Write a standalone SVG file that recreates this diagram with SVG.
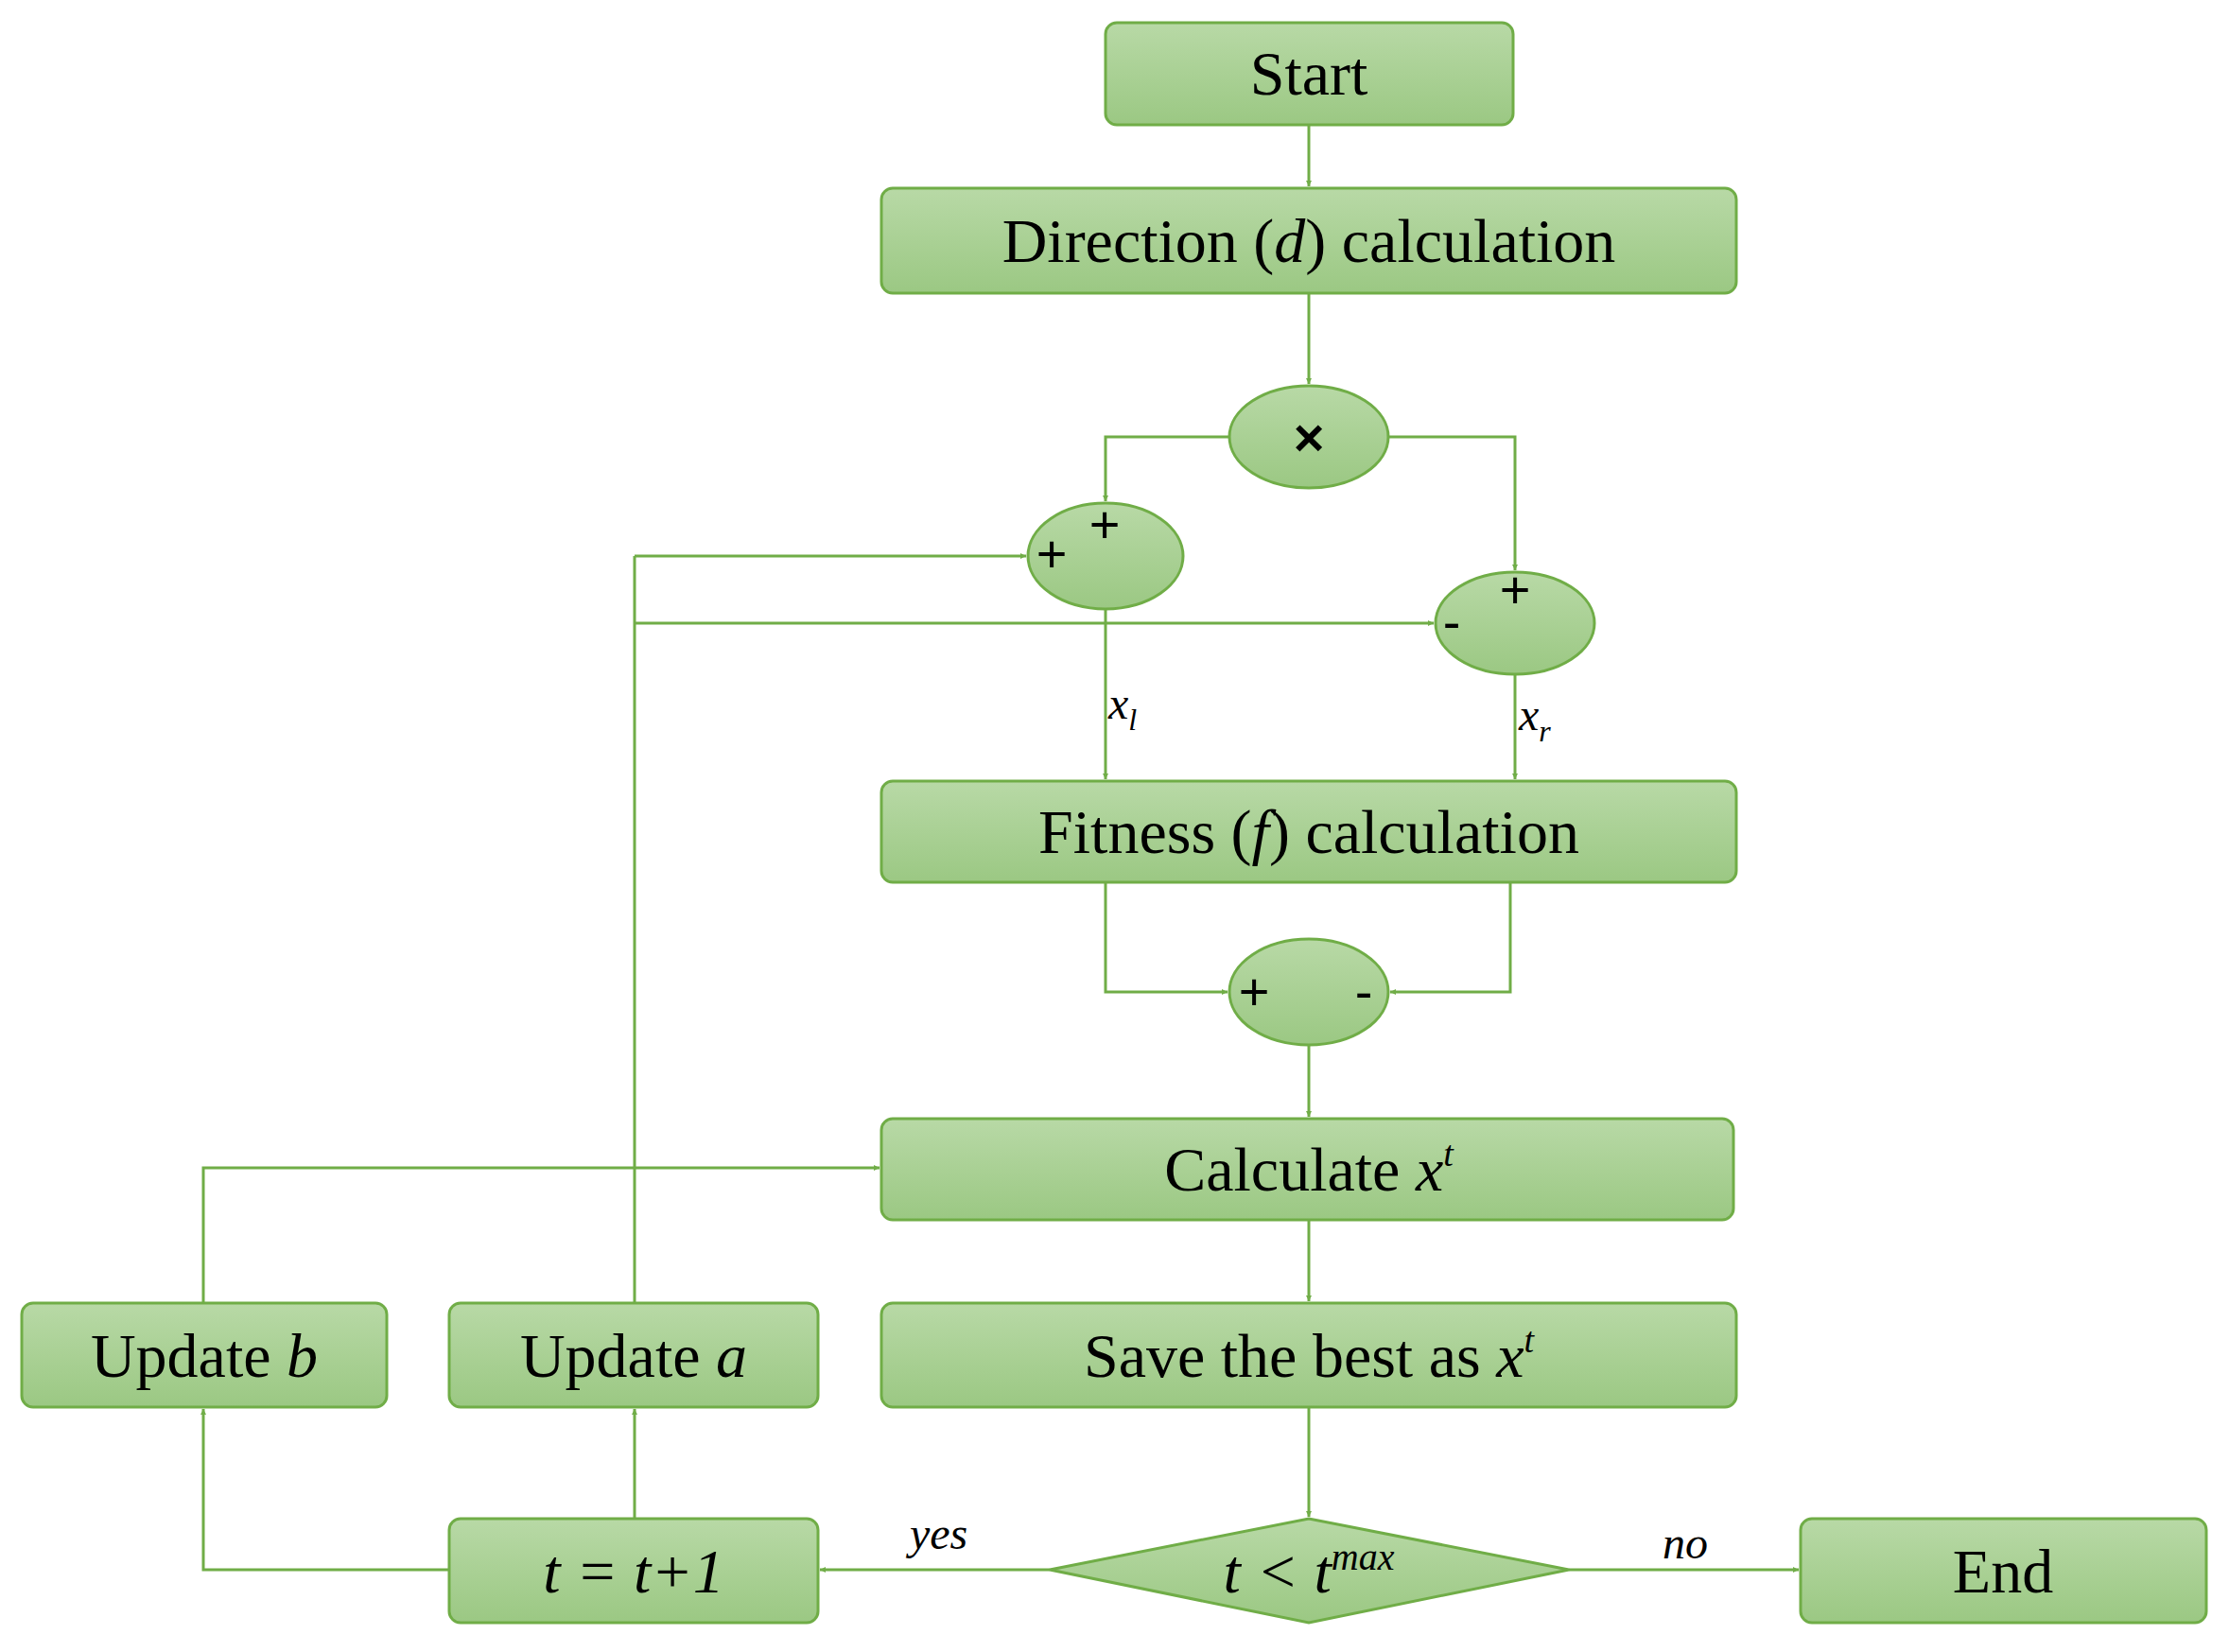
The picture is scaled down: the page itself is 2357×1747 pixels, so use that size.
<svg xmlns="http://www.w3.org/2000/svg" width="2357" height="1747" viewBox="0 0 2357 1747">
<defs>
<linearGradient id="g" x1="0" y1="0" x2="0" y2="1"><stop offset="0" stop-color="#b8d9a6"/><stop offset="1" stop-color="#9bc883"/></linearGradient>
<marker id="a" viewBox="0 0 10 10" refX="10" refY="5" markerWidth="6" markerHeight="6" markerUnits="userSpaceOnUse" orient="auto"><path d="M0,0 L10,5 L0,10 Z" fill="#70ad47"/></marker>
<style>
.b{fill:url(#g);stroke:#70ad47;stroke-width:3}
.t{font-family:"Liberation Serif",serif;font-size:66px;fill:#000;text-anchor:middle}
.s{font-family:"Liberation Sans",sans-serif;font-size:56px;fill:#000;text-anchor:middle}
.l{font-family:"Liberation Serif",serif;font-size:48px;font-style:italic;fill:#000}
.c{fill:none;stroke:#70ad47;stroke-width:3;marker-end:url(#a)}
.n{fill:none;stroke:#70ad47;stroke-width:3}
</style>
</defs>
<g id="connectors">
<path class="c" d="M1384,132 V197"/>
<path class="c" d="M1384,310 V406"/>
<path class="c" d="M1300,462 H1169 V530"/>
<path class="c" d="M1468,462 H1602 V603"/>
<path class="n" d="M671,1378 V588"/>
<path class="c" d="M671,588 H1085"/>
<path class="c" d="M671,659 H1516"/>
<path class="c" d="M1169,644 V824"/>
<path class="c" d="M1602,713 V824"/>
<path class="c" d="M1169,933 V1049 H1298"/>
<path class="c" d="M1597,933 V1049 H1470"/>
<path class="c" d="M1384,1105 V1181"/>
<path class="c" d="M1384,1290 V1376"/>
<path class="c" d="M1384,1488 V1604"/>
<path class="c" d="M1110,1660 H867"/>
<path class="c" d="M1659,1660 H1902"/>
<path class="c" d="M671,1606 V1490"/>
<path class="c" d="M475,1660 H215 V1490"/>
<path class="c" d="M215,1378 V1235 H930"/>
<text class="l" x="1172" y="760">x<tspan font-size="32" dy="12">l</tspan></text>
<text class="l" x="1606" y="772">x<tspan font-size="32" dy="12">r</tspan></text>
<text class="l" x="962" y="1638">yes</text>
<text class="l" x="1758" y="1648">no</text>
</g>
<g id="start"><rect class="b" x="1169" y="24" width="431" height="108" rx="12"/><text class="t" x="1384" y="100">Start</text></g>
<g id="direction"><rect class="b" x="932" y="199" width="904" height="111" rx="12"/><text class="t" x="1384" y="277">Direction (<tspan font-style="italic">d</tspan>) calculation</text></g>
<g id="mult"><ellipse class="b" cx="1384" cy="462" rx="84" ry="54"/><text class="s" x="1384" y="482" font-weight="bold">×</text></g>
<g id="sumL"><ellipse class="b" cx="1169" cy="588" rx="82" ry="56"/><text class="s" x="1112" y="605">+</text><text class="s" x="1168" y="574">+</text></g>
<g id="sumR"><ellipse class="b" cx="1602" cy="659" rx="84" ry="54"/><text class="s" x="1535" y="677">-</text><text class="s" x="1602" y="643">+</text></g>
<g id="fitness"><rect class="b" x="932" y="826" width="904" height="107" rx="12"/><text class="t" x="1384" y="902">Fitness (<tspan font-style="italic">f</tspan>) calculation</text></g>
<g id="diff"><ellipse class="b" cx="1384" cy="1049" rx="84" ry="56"/><text class="s" x="1326" y="1068">+</text><text class="s" x="1442" y="1068">-</text></g>
<g id="calc"><rect class="b" x="932" y="1183" width="901" height="107" rx="12"/><text class="t" x="1384" y="1259">Calculate <tspan font-style="italic">x</tspan><tspan font-style="italic" font-size="38" dy="-26">t</tspan></text></g>
<g id="save"><rect class="b" x="932" y="1378" width="904" height="110" rx="12"/><text class="t" x="1384" y="1456">Save the best as <tspan font-style="italic">x</tspan><tspan font-style="italic" font-size="38" dy="-26">t</tspan></text></g>
<g id="updb"><rect class="b" x="23" y="1378" width="386" height="110" rx="12"/><text class="t" x="216" y="1456">Update <tspan font-style="italic">b</tspan></text></g>
<g id="upda"><rect class="b" x="475" y="1378" width="390" height="110" rx="12"/><text class="t" x="670" y="1456">Update <tspan font-style="italic">a</tspan></text></g>
<g id="inc"><rect class="b" x="475" y="1606" width="390" height="110" rx="12"/><text class="t" x="670" y="1684" font-style="italic">t = t+1</text></g>
<g id="cond"><polygon class="b" points="1110,1660 1384,1606 1659,1660 1384,1716"/><text class="t" x="1384" y="1684" font-style="italic">t &lt; t<tspan font-size="40" dy="-24">max</tspan></text></g>
<g id="end"><rect class="b" x="1904" y="1606" width="429" height="110" rx="12"/><text class="t" x="2118" y="1684">End</text></g>
</svg>
